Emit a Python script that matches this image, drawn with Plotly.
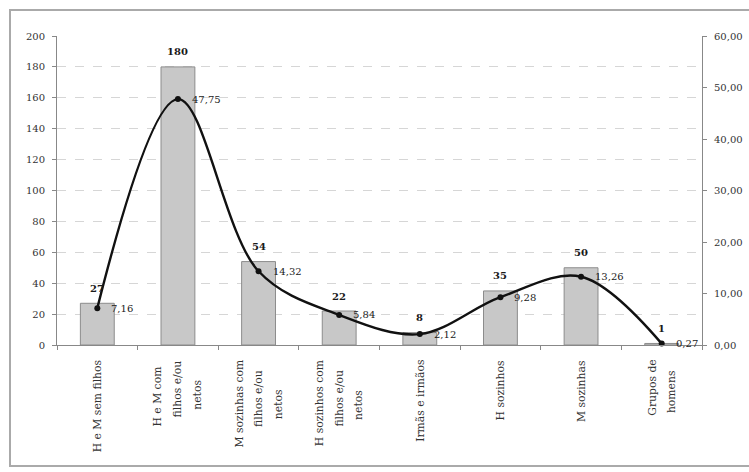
import plotly.graph_objects as go
from plotly.subplots import make_subplots

categories = [
    "H e M sem filhos",
    "H e M com<br>filhos e/ou<br>netos",
    "M sozinhas com<br>filhos e/ou<br>netos",
    "H sozinhos com<br>filhos e/ou<br>netos",
    "Irmãs e irmãos",
    "H sozinhos",
    "M sozinhas",
    "Grupos de<br>homens",
]
counts = [27, 180, 54, 22, 8, 35, 50, 1]
percentages = [7.16, 47.75, 14.32, 5.84, 2.12, 9.28, 13.26, 0.27]
left_ticks = [0, 20, 40, 60, 80, 100, 120, 140, 160, 180, 200]
right_ticks = [0, 10, 20, 30, 40, 50, 60]

W, H = 749, 472
L, R, T, B = 57, 47, 36, 127
pw, ph = W - L - R, H - T - B

serif = "DejaVu Serif"
ink = "#1a1a1a"


def fmt_pt(v):
    return f"{v:.2f}".replace(".", ",")


fig = make_subplots(specs=[[{"secondary_y": True}]])

fig.add_trace(go.Bar(
    x=categories, y=counts, width=0.42,
    marker=dict(color="#c8c8c8", line=dict(color="#8c8c8c", width=1)),
    showlegend=False, hoverinfo="x+y",
), secondary_y=False)

fig.add_trace(go.Scatter(
    x=categories, y=percentages, mode="lines+markers",
    line=dict(color="#111111", width=2.4, shape="spline", smoothing=1.0),
    marker=dict(color="#111111", size=6),
    cliponaxis=False, showlegend=False,
), secondary_y=True)

annotations = []

# count labels above the bars
for cat, v in zip(categories, counts):
    annotations.append(dict(
        x=cat, y=v, xref="x", yref="y", text=f"<b>{v}</b>", showarrow=False,
        yanchor="middle", xanchor="center", yshift=15,
        font=dict(family=serif, size=10, color=ink),
    ))

# percentage labels to the right of the line points
for cat, v in zip(categories, percentages):
    annotations.append(dict(
        x=cat, y=v, xref="x", yref="y2", text=fmt_pt(v), showarrow=False,
        yanchor="middle", xanchor="left", xshift=12, yshift=0,
        font=dict(family=serif, size=10, color=ink),
    ))

# rotated category labels, one annotation per line, centred on each other
char_px = 6.6
line_gap = 20
for cat in categories:
    lines = cat.split("<br>")
    n = len(lines)
    longest = max(len(s) for s in lines) * char_px
    for i, s in enumerate(lines):
        annotations.append(dict(
            x=cat, y=0, xref="x", yref="paper", text=s, showarrow=False,
            textangle=-90, xanchor="center", yanchor="top",
            xshift=(i - (n - 1) / 2) * line_gap,
            yshift=-13 - (longest - len(s) * char_px) / 2,
            font=dict(family=serif, size=10.8, color="#333333"),
        ))

axis_font = dict(family=serif, size=10, color="#333333")

fig.update_xaxes(
    domain=[0, 1],
    showticklabels=False,
    showline=True, linecolor="#888888", linewidth=1,
    ticks="outside", tickson="boundaries", ticklen=4, tickcolor="#888888",
    showgrid=False,
)
fig.update_yaxes(
    range=[0, 200], tickvals=left_ticks, ticktext=[str(v) for v in left_ticks],
    tickfont=axis_font, showline=True, linecolor="#888888", linewidth=1,
    ticks="outside", ticklen=4, tickcolor="#888888", ticklabelstandoff=5,
    showgrid=True, gridcolor="#d6d6d6", griddash="dash", gridwidth=1,
    zeroline=False, secondary_y=False,
)
fig.update_yaxes(
    range=[0, 60], tickvals=right_ticks, ticktext=[fmt_pt(v) for v in right_ticks],
    tickfont=axis_font, showline=True, linecolor="#888888", linewidth=1,
    ticks="outside", ticklen=4, tickcolor="#888888", ticklabelstandoff=5,
    showgrid=False, zeroline=False, secondary_y=True,
)


# outer frame around the whole chart, given in pixels
def px_to_paper(x0, y0, x1, y1):
    return dict(x0=(x0 - L) / pw, x1=(x1 - L) / pw,
                y0=(H - B - y0) / ph, y1=(H - B - y1) / ph)


fig.add_shape(type="rect", xref="paper", yref="paper",
              line=dict(color="#aaaaaa", width=2),
              **px_to_paper(10, 10, 760, 466))

fig.update_layout(
    width=W, height=H,
    margin=dict(l=L, r=R, t=T, b=B, autoexpand=False),
    paper_bgcolor="white", plot_bgcolor="white",
    annotations=annotations,
)

fig.write_html("out.html")
